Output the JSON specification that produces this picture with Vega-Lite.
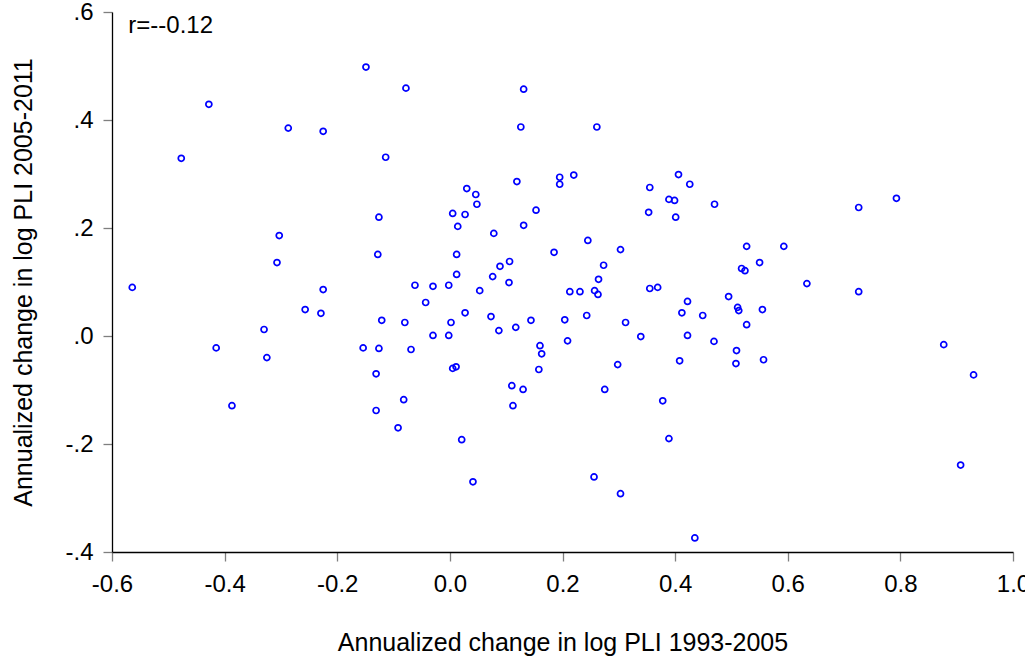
{
  "$schema": "https://vega.github.io/schema/vega-lite/v6.json",
  "width": 901,
  "height": 540,
  "autosize": {"type": "none"},
  "padding": {"left": 112, "top": 12, "right": 12, "bottom": 109},
  "background": "white",
  "config": {
    "view": {"stroke": null},
    "font": "Liberation Sans",
    "axis": {
      "grid": false,
      "domainColor": "#000000",
      "domainWidth": 1.3,
      "tickColor": "#7f7f7f",
      "tickWidth": 1.3,
      "tickSize": 9,
      "labelFont": "Liberation Sans",
      "labelFontSize": 24,
      "labelColor": "#000000",
      "titleFont": "Liberation Sans",
      "titleFontSize": 25,
      "titleFontWeight": "normal",
      "titleColor": "#000000"
    }
  },
  "layer": [
    {
      "data": {
        "values": [
          {"x": -0.564, "y": 0.090}, {"x": -0.477, "y": 0.329}, {"x": -0.428, "y": 0.429}, {"x": -0.415, "y": -0.022},
          {"x": -0.387, "y": -0.129}, {"x": -0.330, "y": 0.012}, {"x": -0.325, "y": -0.040}, {"x": -0.307, "y": 0.136},
          {"x": -0.303, "y": 0.186}, {"x": -0.287, "y": 0.385}, {"x": -0.257, "y": 0.049}, {"x": -0.229, "y": 0.042},
          {"x": -0.225, "y": 0.379}, {"x": -0.225, "y": 0.086}, {"x": -0.154, "y": -0.022}, {"x": -0.149, "y": 0.498},
          {"x": -0.131, "y": -0.070}, {"x": -0.131, "y": -0.138}, {"x": -0.128, "y": 0.151}, {"x": -0.126, "y": 0.220},
          {"x": -0.126, "y": -0.023}, {"x": -0.121, "y": 0.029}, {"x": -0.114, "y": 0.331}, {"x": -0.092, "y": -0.170},
          {"x": -0.082, "y": -0.118}, {"x": -0.080, "y": 0.025}, {"x": -0.078, "y": 0.459}, {"x": -0.069, "y": -0.025},
          {"x": -0.062, "y": 0.094}, {"x": -0.043, "y": 0.062}, {"x": -0.030, "y": 0.092}, {"x": -0.030, "y": 0.001},
          {"x": -0.002, "y": 0.094}, {"x": -0.002, "y": 0.001}, {"x": 0.002, "y": 0.025}, {"x": 0.005, "y": 0.227},
          {"x": 0.005, "y": -0.060}, {"x": 0.011, "y": -0.057}, {"x": 0.012, "y": 0.151}, {"x": 0.012, "y": 0.114},
          {"x": 0.014, "y": 0.203}, {"x": 0.021, "y": -0.192}, {"x": 0.027, "y": 0.225}, {"x": 0.027, "y": 0.043},
          {"x": 0.030, "y": 0.273}, {"x": 0.041, "y": -0.270}, {"x": 0.046, "y": 0.262}, {"x": 0.048, "y": 0.244},
          {"x": 0.053, "y": 0.084}, {"x": 0.073, "y": 0.036}, {"x": 0.076, "y": 0.110}, {"x": 0.078, "y": 0.190},
          {"x": 0.087, "y": 0.010}, {"x": 0.089, "y": 0.129}, {"x": 0.105, "y": 0.099}, {"x": 0.106, "y": 0.138},
          {"x": 0.110, "y": -0.092}, {"x": 0.112, "y": -0.129}, {"x": 0.117, "y": 0.016}, {"x": 0.119, "y": 0.286},
          {"x": 0.126, "y": 0.387}, {"x": 0.130, "y": -0.099}, {"x": 0.131, "y": 0.457}, {"x": 0.131, "y": 0.205},
          {"x": 0.144, "y": 0.029}, {"x": 0.153, "y": 0.233}, {"x": 0.158, "y": -0.062}, {"x": 0.160, "y": -0.018},
          {"x": 0.163, "y": -0.033}, {"x": 0.185, "y": 0.155}, {"x": 0.195, "y": 0.294}, {"x": 0.195, "y": 0.281},
          {"x": 0.204, "y": 0.030}, {"x": 0.209, "y": -0.009}, {"x": 0.213, "y": 0.082}, {"x": 0.220, "y": 0.298},
          {"x": 0.231, "y": 0.082}, {"x": 0.243, "y": 0.038}, {"x": 0.245, "y": 0.177}, {"x": 0.256, "y": -0.261},
          {"x": 0.257, "y": 0.084}, {"x": 0.261, "y": 0.387}, {"x": 0.263, "y": 0.077}, {"x": 0.264, "y": 0.105},
          {"x": 0.273, "y": 0.131}, {"x": 0.275, "y": -0.099}, {"x": 0.298, "y": -0.053}, {"x": 0.303, "y": 0.160},
          {"x": 0.303, "y": -0.292}, {"x": 0.312, "y": 0.025}, {"x": 0.339, "y": -0.001}, {"x": 0.353, "y": 0.229},
          {"x": 0.355, "y": 0.275}, {"x": 0.355, "y": 0.088}, {"x": 0.369, "y": 0.090}, {"x": 0.378, "y": -0.120},
          {"x": 0.389, "y": 0.253}, {"x": 0.389, "y": -0.190}, {"x": 0.399, "y": 0.251}, {"x": 0.401, "y": 0.220},
          {"x": 0.406, "y": 0.299}, {"x": 0.408, "y": -0.046}, {"x": 0.412, "y": 0.043}, {"x": 0.422, "y": 0.064},
          {"x": 0.422, "y": 0.001}, {"x": 0.426, "y": 0.281}, {"x": 0.435, "y": -0.374}, {"x": 0.449, "y": 0.038},
          {"x": 0.469, "y": -0.010}, {"x": 0.470, "y": 0.244}, {"x": 0.495, "y": 0.073}, {"x": 0.508, "y": -0.051},
          {"x": 0.509, "y": -0.027}, {"x": 0.511, "y": 0.053}, {"x": 0.513, "y": 0.047}, {"x": 0.518, "y": 0.125},
          {"x": 0.524, "y": 0.121}, {"x": 0.527, "y": 0.166}, {"x": 0.527, "y": 0.021}, {"x": 0.550, "y": 0.136},
          {"x": 0.555, "y": 0.049}, {"x": 0.557, "y": -0.044}, {"x": 0.593, "y": 0.166}, {"x": 0.634, "y": 0.097},
          {"x": 0.726, "y": 0.238}, {"x": 0.726, "y": 0.082}, {"x": 0.793, "y": 0.255}, {"x": 0.877, "y": -0.016},
          {"x": 0.907, "y": -0.239}, {"x": 0.930, "y": -0.072}
        ]
      },
      "mark": {"type": "point", "shape": "circle", "filled": false, "stroke": "#0000ff", "strokeWidth": 1.7, "size": 36, "opacity": 1},
      "encoding": {
        "x": {
          "field": "x", "type": "quantitative",
          "scale": {"domain": [-0.6, 1.0], "nice": false, "zero": false},
          "axis": {
            "title": "Annualized change in log PLI 1993-2005",
            "values": [-0.6, -0.4, -0.2, 0, 0.2, 0.4, 0.6, 0.8, 1.0],
            "labelExpr": "replace(format(datum.value, '.1f'), '\u2212', '-')",
            "labelPadding": 11,
            "titlePadding": 34,
            "labelFlush": false,
            "labelOverlap": false
          }
        },
        "y": {
          "field": "y", "type": "quantitative",
          "scale": {"domain": [-0.4, 0.6], "nice": false, "zero": false},
          "axis": {
            "title": "Annualized change in log PLI 2005-2011",
            "values": [-0.4, -0.2, 0, 0.2, 0.4, 0.6],
            "labelExpr": "replace(replace(format(datum.value, '.1f'), '\u2212', '-'), '0.', '.')",
            "labelPadding": 10,
            "titlePadding": 28,
            "labelFlush": false,
            "labelOverlap": false
          }
        }
      }
    },
    {
      "data": {"values": [{"x": -0.571, "y": 0.562, "label": "r=--0.12"}]},
      "mark": {"type": "text", "align": "left", "baseline": "alphabetic", "fontSize": 24, "font": "Liberation Sans", "color": "#000000"},
      "encoding": {
        "x": {"field": "x", "type": "quantitative"},
        "y": {"field": "y", "type": "quantitative"},
        "text": {"field": "label"}
      }
    }
  ]
}
